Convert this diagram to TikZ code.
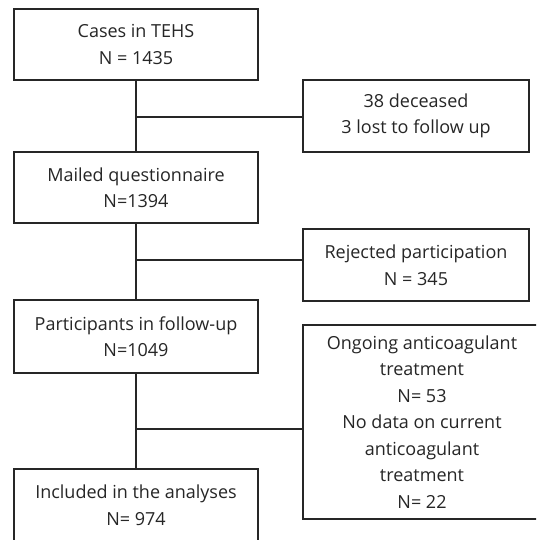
\documentclass[tikz,border=0pt]{standalone}
\usepackage{fontspec}
\setmainfont{Open Sans}
\begin{document}
\begin{tikzpicture}[x=1pt,y=-1pt,
  box/.style={draw=black!85, line width=1.4pt, align=center, inner sep=0pt,
    font=\fontsize{18}{26.5}\selectfont, text=black!85},
  conn/.style={draw=black!85, line width=1.4pt}]
\useasboundingbox (0,0) rectangle (536,540);
\clip (0,0) rectangle (536,540);
\fill[white] (0,0) rectangle (536,540);
\node[box, minimum width=244pt, minimum height=71pt] (b1) at (136,44.5) {Cases in TEHS\\N = 1435};
\node[box, minimum width=244pt, minimum height=71pt] (b2) at (136,187.5) {Mailed questionnaire\\N=1394};
\node[box, minimum width=244pt, minimum height=73pt] (b3) at (136,336.5) {Participants in follow-up\\N=1049};
\node[box, minimum width=244pt, minimum height=72pt] (b4) at (136,505) {Included in the analyses\\N= 974};
\node[box, minimum width=226pt, minimum height=72pt] (e1) at (416,116) {38 deceased\\3 lost to follow up};
\node[box, minimum width=226pt, minimum height=72pt] (e2) at (416,265) {Rejected participation\\N = 345};
\node[box, minimum width=238pt, minimum height=194pt] (e3) at (422,422) {Ongoing anticoagulant\\treatment\\N= 53\\No data on current\\anticoagulant\\treatment\\N= 22};
\coordinate (j1) at (136,117);
\coordinate (j2) at (136,260);
\coordinate (j3) at (136,429);
\draw[conn] (b1.south) -- (b2.north);
\draw[conn] (b2.south) -- (b3.north);
\draw[conn] (b3.south) -- (b4.north);
\draw[conn] (j1) -- (j1 -| e1.west);
\draw[conn] (j2) -- (j2 -| e2.west);
\draw[conn] (j3) -- (j3 -| e3.west);
\end{tikzpicture}
\end{document}
